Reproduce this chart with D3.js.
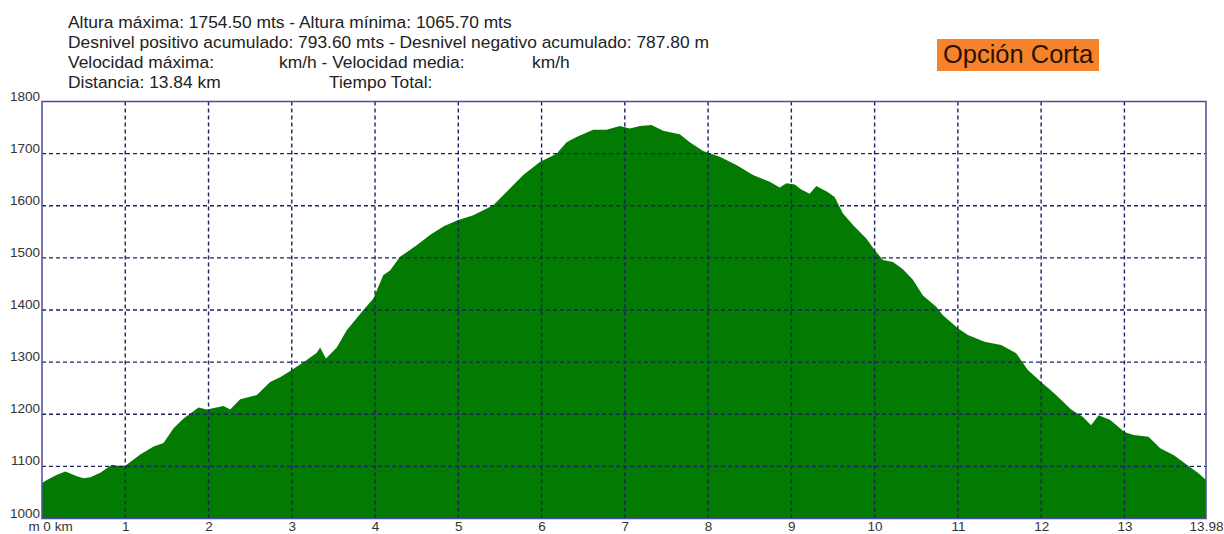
<!DOCTYPE html>
<html>

<head>
   <title>Perfil Opción Corta</title>
   <script src="https://d3js.org/d3.v7.min.js"></script>
   <style>
      body { margin: 0; background: #fff; }
      text { font-family: Arial, "Liberation Sans", sans-serif; }
   </style>
</head>

<body>
   <script>
      var km = [0.00, 0.08, 0.18, 0.28, 0.42, 0.50, 0.58, 0.70, 0.84, 0.90, 1.00, 1.18, 1.34, 1.46, 1.58, 1.70, 1.88, 1.98,
         2.18, 2.26, 2.38, 2.58, 2.74, 2.86, 3.00, 3.18, 3.30, 3.34, 3.41, 3.54, 3.66, 3.86, 3.98, 4.10, 4.18, 4.30, 4.50,
         4.66, 4.82, 4.99, 5.18, 5.42, 5.62, 5.78, 5.98, 6.18, 6.30, 6.42, 6.62, 6.78, 6.94, 7.06, 7.18, 7.32, 7.46, 7.66,
         7.78, 7.94, 8.14, 8.34, 8.54, 8.74, 8.86, 8.94, 9.04, 9.12, 9.22, 9.30, 9.43, 9.52, 9.62, 9.74, 9.90, 10.00, 10.10,
         10.22, 10.34, 10.46, 10.58, 10.74, 10.82, 11.00, 11.12, 11.32, 11.52, 11.70, 11.84, 12.00, 12.16, 12.36, 12.50,
         12.60, 12.69, 12.83, 13.00, 13.11, 13.29, 13.43, 13.59, 13.75, 13.89, 13.98]
      var altura = [1068, 1076, 1084, 1090, 1081, 1077, 1079, 1088, 1103, 1101, 1101, 1123, 1138, 1145, 1173, 1192, 1213, 1209,
         1216, 1209, 1229, 1237, 1262, 1271, 1285, 1304, 1318, 1328, 1307, 1328, 1361, 1400, 1422, 1467, 1476, 1502, 1524,
         1544, 1560, 1572, 1582, 1601, 1633, 1659, 1684, 1700, 1722, 1732, 1746, 1746, 1753, 1748, 1753, 1755, 1744, 1737,
         1722, 1705, 1694, 1678, 1659, 1646, 1635, 1643, 1641, 1631, 1623, 1638, 1627, 1617, 1585, 1563, 1537, 1515, 1496,
         1492, 1478, 1458, 1428, 1406, 1390, 1365, 1352, 1339, 1333, 1317, 1285, 1262, 1240, 1209, 1195,
         1179, 1198, 1189, 1166, 1160, 1157, 1135, 1122, 1103, 1087, 1074]

      var xTicks = [0, 1, 2, 3, 4, 5, 6, 7, 8, 9, 10, 11, 12, 13, 13.98]
      var yTicks = [1000, 1100, 1200, 1300, 1400, 1500, 1600, 1700, 1800]

      var header = [
         ["Altura máxima: 1754.50 mts - Altura mínima: 1065.70 mts"],
         ["Desnivel positivo acumulado: 793.60 mts - Desnivel negativo acumulado: 787.80 m"],
         ["Velocidad máxima:", "km/h - Velocidad media:", "km/h"],
         ["Distancia: 13.84 km", "Tiempo Total:"]
      ]
      var headerX = [[68], [68], [68, 279, 532], [68, 329]]
      var titulo = "Opción Corta"

      var data = km.map((k, i) => ({ k: k, v: altura[i] }))

      var W = 1224, H = 534
      var pLeft = 42, pRight = 1206, pTop = 101.5, pBottom = 518.5

      var scaleX = d3.scaleLinear().domain([0, 13.98]).range([pLeft, pRight])
      var scaleY = d3.scaleLinear().domain([1000, 1800]).range([pBottom, pTop])

      var svg = d3.select("body").append("svg").attr("width", W).attr("height", H)

      // texto de cabecera
      header.forEach((line, r) => {
         line.forEach((t, c) => {
            svg.append("text").attr("x", headerX[r][c]).attr("y", 28 + r * 20)
               .attr("font-size", "17.4px").attr("fill", "#222").text(t)
         })
      })

      // etiqueta naranja
      svg.append("rect").attr("x", 937).attr("y", 39).attr("width", 162).attr("height", 32).attr("fill", "#f5832c")
      svg.append("text").attr("x", 1018).attr("y", 63).attr("text-anchor", "middle")
         .attr("font-size", "25.5px").attr("fill", "#2b1200").text(titulo)

      // area del perfil
      var area = d3.area().x(d => scaleX(d.k)).y0(scaleY(1000)).y1(d => scaleY(d.v))
      svg.append("path").datum(data).attr("d", area).attr("fill", "#037b03")

      // rejilla
      svg.selectAll("line.vgrid").data(xTicks.slice(1, -1)).enter().append("line")
         .attr("class", "vgrid")
         .attr("x1", d => scaleX(d)).attr("x2", d => scaleX(d))
         .attr("y1", pTop).attr("y2", pBottom)
         .attr("stroke", "#1c2360").attr("stroke-width", 1.4).attr("stroke-dasharray", "4,3")
      svg.selectAll("line.hgrid").data(yTicks.slice(1, -1)).enter().append("line")
         .attr("class", "hgrid")
         .attr("x1", pLeft).attr("x2", pRight)
         .attr("y1", d => scaleY(d)).attr("y2", d => scaleY(d))
         .attr("stroke", "#1c2360").attr("stroke-width", 1.4).attr("stroke-dasharray", "4,3")

      // marco
      svg.append("rect").attr("x", pLeft).attr("y", pTop).attr("width", pRight - pLeft).attr("height", pBottom - pTop)
         .attr("fill", "none").attr("stroke", "#4b4b9e").attr("stroke-width", 1.5)

      // ejes
      var axisY = d3.axisLeft(scaleY).tickValues(yTicks).tickSize(0).tickPadding(2).tickFormat(d3.format("d"))
      var gy = svg.append("g").attr("transform", "translate(" + pLeft + ",0)").call(axisY)
         .attr("font-size", 13.5).attr("font-family", null)
      gy.select(".domain").remove()
      gy.selectAll("text").attr("dy", -1.5).attr("fill", "#333")

      var axisX = d3.axisBottom(scaleX).tickValues(xTicks).tickSize(0).tickPadding(2.5)
         .tickFormat(d => d === 0 ? "m 0 km" : (d % 1 ? d.toFixed(2) : d))
      var gx = svg.append("g").attr("transform", "translate(0," + pBottom + ")").call(axisX)
         .attr("font-size", 13.5).attr("font-family", null)
      gx.select(".domain").remove()
      gx.selectAll("text").attr("fill", "#333")
      gx.selectAll("text").filter(d => d === 0).attr("dx", 8)
   </script>
</body>

</html>
